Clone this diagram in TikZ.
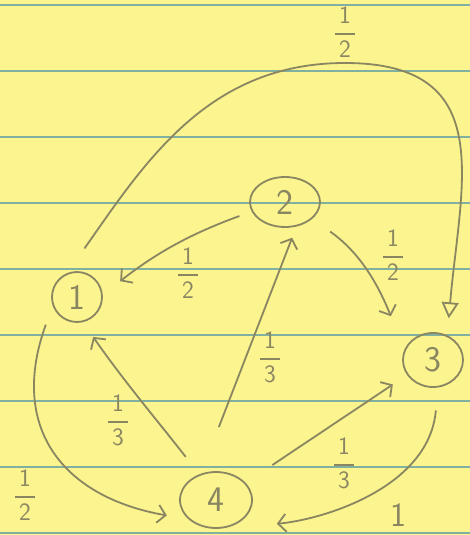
\documentclass[tikz,border=0pt]{standalone}
\usepackage{amsmath}
\usetikzlibrary{shapes.geometric,arrows.meta}
\definecolor{paper}{RGB}{252,244,142}
\definecolor{ruling}{RGB}{128,176,160}
\definecolor{pencil}{RGB}{138,134,98}
\newcommand\fr[2]{$\displaystyle\genfrac{}{}{1.3pt}{0}{\textsf{\,#1\,}}{\textsf{\,#2\,}}$}
\begin{document}
\begin{tikzpicture}[x=1pt,y=-1pt,
  vert/.style={ellipse, draw=pencil, line width=1.8pt, inner sep=0pt, text=pencil,
    font=\sffamily\fontsize{36}{36}\selectfont},
  lab/.style={text=pencil, inner sep=0pt, font=\fontsize{25}{28}\selectfont},
  link/.style={draw=pencil, line width=1.8pt, -{Straight Barb[length=8pt,width=18pt]}},
  bigtip/.style={-{Triangle[open,length=16pt,width=17pt]}}
]
\fill[paper] (0,0) rectangle (470,535);
\useasboundingbox (0,0) rectangle (470,535);
\foreach \yy in {5,71,...,533} \draw[ruling, line width=2.5pt] (0,\yy) -- (470,\yy);

% vertices
\node[vert, minimum width=50pt, minimum height=50pt] (n1) at (77,297) {1};
\node[vert, minimum width=70pt, minimum height=50pt] (n2) at (285,202) {2};
\node[vert, minimum width=60pt, minimum height=54pt] (n3) at (433,360) {3};
\node[vert, minimum width=72pt, minimum height=56pt] (n4) at (216,500) {4};
\coordinate (top) at (345,63);

% edges
\draw[link, bigtip, shorten <=30pt, shorten >=17pt]
  (n1.112) to[out=55,in=180] (top) to[out=0,in=85,looseness=1.35] (n3.60);
\draw[link, shorten <=20pt, shorten >=22pt] (n1.200) to[out=-110,in=170,looseness=1.3] (n4.215);
\draw[link, shorten <=22pt, shorten >=18pt] (n4.123) to[out=128,in=-55] (n1.-77);
\draw[link, shorten <=50pt, shorten >=12pt] (n4.120) -- (n2.-65);
\draw[link, shorten <=13pt, shorten >=22pt] (n2.196) to[out=200,in=38] (n1.5);
\draw[link, shorten <=22pt, shorten >=36pt] (n2.-32) to[out=-35,in=112] (n3.160);
\draw[link, shorten <=32pt, shorten >=17pt] (n4.30) -- (n3.210);
\draw[link, shorten <=23pt, shorten >=56pt] (n3.-80) to[out=-95,in=5] (n4.-80);

% labels
\node[lab] (l13) at (345,32) {\fr{1}{2}};
\node[lab] (l21) at (188,273) {\fr{1}{2}};
\node[lab] (l23) at (393,255) {\fr{1}{2}};
\node[lab] (l42) at (270,357) {\fr{1}{3}};
\node[lab] (l41) at (118,420) {\fr{1}{3}};
\node[lab] (l43) at (344,463) {\fr{1}{3}};
\node[lab] (l14) at (25,495) {\fr{1}{2}};
\node[lab, font=\sffamily\fontsize{34}{34}\selectfont] (l34) at (398,515) {1};
\end{tikzpicture}
\end{document}
